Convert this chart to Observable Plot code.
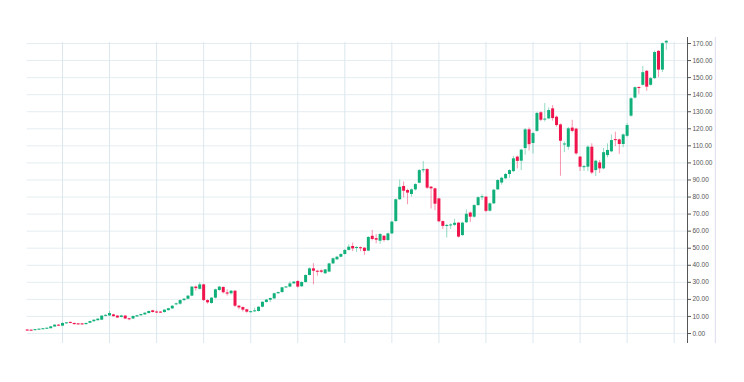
<!DOCTYPE html>
<html><head><meta charset="utf-8">
<script src="https://cdn.jsdelivr.net/npm/d3@7"></script>
<script src="https://cdn.jsdelivr.net/npm/@observablehq/plot@0.6"></script>
<style>body{margin:0;background:#fff;font-family:"Liberation Sans",Arial,sans-serif}</style>
</head><body><div id="chart"></div>
<script>
// monthly candles, index 0..163
const opens = [
1.9,1.7,1.7,2.1,2.4,2.6,2.8,3.8,4.9,4.3,
5.8,6.5,5.9,5.6,5.5,5.2,6.0,6.9,7.5,7.8,
10.2,10.3,10.9,10.2,9.4,10.2,8.6,8.5,9.7,10.4,
10.9,11.7,13.3,12.5,12.4,12.3,13.4,14.4,16.8,17.2,
19.3,20.1,21.9,27.2,25.9,28.5,19.3,17.6,20.7,25.2,
27.0,23.8,23.3,24.8,16.0,15.2,13.9,12.3,12.7,12.9,
15.4,18.2,19.5,20.3,23.3,24.0,26.8,27.2,29.1,30.5,
27.4,29.9,34.0,37.9,36.5,36.7,35.0,36.0,40.8,43.2,
44.7,46.3,48.7,51.0,50.0,50.2,50.0,48.3,57.0,55.6,
54.1,57.0,54.5,58.4,65.6,78.4,86.2,83.8,81.5,84.2,
88.1,95.5,96.1,85.8,84.8,78.9,65.6,62.9,63.2,63.4,
64.7,57.4,64.9,70.6,68.2,75.0,79.6,79.9,71.7,76.0,
84.2,88.2,90.7,93.2,94.9,103.4,101.0,108.4,119.4,111.4,
118.5,129.4,125.2,125.8,131.7,126.8,122.3,110.6,109.2,120.4,
119.8,103.4,97.3,97.5,109.2,95.5,100.0,96.5,104.3,106.5,
113.6,113.5,110.8,115.6,127.4,138.0,144.2,145.5,153.7,145.5,
149.4,165.4,154.4,170.3];
const closes = [
1.6,1.6,2.2,2.4,2.6,3.0,3.9,4.9,4.3,5.9,
6.1,5.9,5.2,5.1,5.2,5.9,7.0,7.8,8.4,10.2,
10.5,11.7,9.9,9.1,10.3,8.5,8.1,10.0,10.4,11.1,
11.9,12.9,12.3,12.1,12.1,13.7,14.5,16.0,17.4,19.3,
20.1,21.9,27.2,26.3,28.5,19.3,18.0,20.7,25.6,27.2,
23.9,23.1,24.8,16.0,15.0,13.7,12.5,12.7,13.3,15.4,
18.3,19.6,20.5,23.3,24.0,26.8,27.2,29.1,30.1,27.2,
29.9,34.0,37.9,36.5,35.9,35.9,37.3,40.8,43.8,44.7,
46.3,48.7,50.6,49.6,50.3,49.8,48.1,56.3,55.1,54.7,
58.0,54.5,58.4,65.3,78.4,85.7,83.4,82.3,84.2,87.3,
95.5,95.9,85.2,84.8,75.8,65.5,62.8,63.2,63.5,64.6,
56.5,64.7,69.9,68.2,75.0,79.6,80.1,71.6,76.0,84.0,
89.7,91.0,93.2,95.5,102.4,100.9,107.5,119.4,110.7,117.2,
129.0,125.0,125.6,130.7,126.0,121.9,112.7,111.0,120.0,118.5,
105.3,97.5,97.7,109.2,94.1,101.0,96.5,106.0,107.3,113.1,
113.1,110.8,116.4,121.9,137.6,144.1,143.6,152.9,144.4,149.4,
164.7,154.4,169.9,171.3];
const highs = [
2.1,2.0,2.4,2.6,2.8,3.2,4.1,5.1,5.2,6.1,
6.4,6.7,6.1,5.9,5.8,6.1,7.2,8.0,8.7,10.4,
11.0,12.9,11.3,10.5,10.6,10.5,8.9,10.2,10.7,11.4,
12.2,13.2,13.6,13.2,12.8,13.9,14.8,16.3,17.8,19.7,
20.6,22.2,27.6,27.8,29.8,28.9,19.8,21.1,26.0,27.6,
27.3,25.6,25.2,25.1,16.4,15.6,14.2,13.1,14.8,15.7,
18.6,19.9,20.8,23.6,24.4,27.1,27.5,30.2,30.5,30.9,
30.3,34.4,38.4,40.9,37.0,37.3,37.6,41.2,44.3,45.2,
46.8,49.1,52.0,53.0,50.8,50.7,50.4,56.8,60.5,58.0,
58.6,57.5,58.9,65.8,78.9,90.0,88.8,84.6,84.8,87.8,
96.2,100.8,96.6,86.2,85.3,79.3,66.0,64.0,64.3,67.0,
65.0,65.2,72.5,71.2,75.5,80.1,81.3,80.3,76.5,84.5,
90.2,91.6,93.8,96.0,103.8,104.0,108.0,120.2,120.5,117.8,
129.6,130.0,134.8,132.2,133.6,127.5,122.8,112.2,120.8,125.0,
120.3,103.8,98.5,110.0,111.2,101.6,101.4,108.5,111.2,116.4,
118.0,114.0,117.0,123.0,138.2,144.6,144.6,156.5,154.2,150.0,
165.5,165.8,170.4,171.6];
const lows = [
1.3,1.4,1.6,2.0,2.2,2.5,2.7,3.6,4.1,4.2,
5.6,5.7,5.0,4.9,4.9,5.0,5.8,6.7,7.3,7.6,
9.8,10.0,9.6,8.9,9.1,8.3,7.5,8.3,9.5,10.1,
10.7,11.5,12.0,11.7,11.8,11.9,13.2,14.2,16.3,16.6,
18.6,19.8,21.6,24.9,25.5,18.9,17.2,17.2,20.3,24.8,
23.2,21.9,22.6,15.2,13.9,12.6,11.9,12.0,12.4,12.6,
15.1,17.8,18.2,20.0,23.0,23.7,26.5,26.8,28.8,26.7,
27.0,29.5,33.8,28.5,33.6,35.3,34.7,35.6,40.5,42.9,
44.3,46.0,48.4,48.0,47.5,47.9,45.8,48.0,54.3,52.6,
52.3,53.6,54.0,57.9,65.2,77.9,79.5,75.5,80.0,83.5,
87.8,94.0,84.5,73.0,72.0,65.0,61.0,56.0,61.0,62.8,
56.0,57.0,64.5,65.0,67.6,74.5,78.0,70.9,71.2,75.6,
83.8,87.0,90.2,91.0,94.3,96.5,95.5,104.5,107.0,105.3,
118.0,124.2,124.0,125.3,124.5,121.0,92.2,106.0,107.5,117.6,
104.5,95.0,95.0,95.0,93.2,92.0,93.8,96.0,103.0,106.0,
109.5,105.0,109.0,115.0,126.8,137.5,140.2,145.0,142.0,145.0,
149.0,150.0,153.0,166.0];
const yTicks = [0,10,20,30,40,50,60,70,80,90,100,110,120,130,140,150,160,170];
const yearTicks = [9,21,33,45,57,69,81,93,105,117,129,141,153,165];

const UP = "#11b07b", DOWN = "#f0144d";
const candles = opens.map((o, i) => ({i, o, c: closes[i], h: highs[i], l: lows[i]}));
const col = d => d.c >= d.o ? UP : DOWN;
const bodyHi = d => Math.abs(d.o - d.c) < 0.6 ? (d.o + d.c) / 2 + 0.3 : Math.max(d.o, d.c);
const bodyLo = d => Math.abs(d.o - d.c) < 0.6 ? (d.o + d.c) / 2 - 0.3 : Math.min(d.o, d.c);

const xMax = 168.4, yMin = -5.86, yMax = 170.59;
const chart = Plot.plot({
  width: 744, height: 382,
  marginLeft: 26.7, marginRight: 57, marginTop: 42, marginBottom: 39,
  style: {fontFamily: "'Liberation Sans', Arial, sans-serif", background: "#fff"},
  x: {domain: [0, xMax], axis: null},
  y: {domain: [yMin, yMax], axis: null},
  marks: [
    Plot.gridY(yTicks, {stroke: "#e4edf2", strokeOpacity: 1}),
    Plot.gridX(yearTicks, {stroke: "#dbe7ee", strokeOpacity: 1}),
    Plot.ruleX(candles, {x: "i", y1: "l", y2: "h", stroke: col, strokeOpacity: 0.45, strokeWidth: 1}),
    Plot.ruleX(candles, {x: "i", y1: bodyLo, y2: bodyHi, stroke: col, strokeWidth: 3}),
    Plot.ruleX([xMax], {y1: yMin, y2: 173.5, stroke: "#555", strokeWidth: 1}),
    Plot.ruleX([175.5], {y1: yMin, y2: 173.5, stroke: "#dcdcf0", strokeWidth: 1}),
    Plot.axisY(yTicks, {anchor: "right", label: null, tickSize: 3, tickPadding: 2,
      tickFormat: d => d.toFixed(2), fontSize: 6.5, color: "#555"})
  ]
});
document.getElementById("chart").appendChild(chart);
</script>
</body></html>
